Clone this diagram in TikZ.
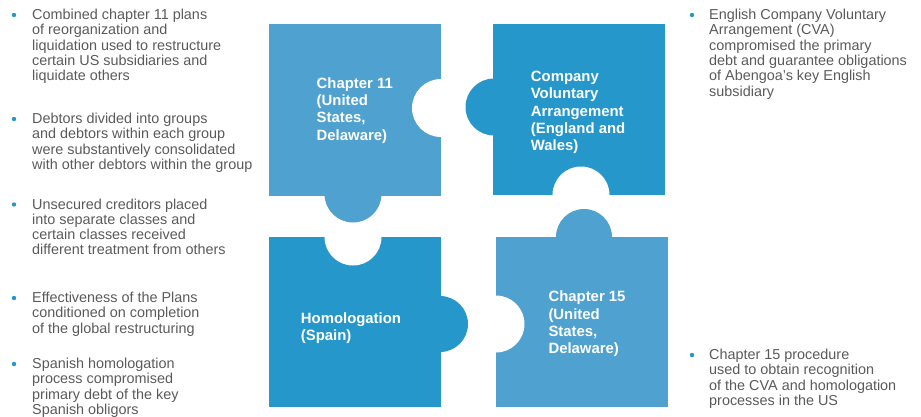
\documentclass[tikz,border=0pt]{standalone}
\usepackage{fontspec}
\setmainfont{Liberation Sans}
\definecolor{lightblue}{HTML}{4FA1CF}
\definecolor{darkblue}{HTML}{2597CA}
\definecolor{bodygray}{HTML}{5A5A5A}
\begin{document}
\begin{tikzpicture}[x=1pt,y=-1pt,
  piecelabel/.style={anchor=base west, inner sep=0pt, align=left, text=white,
    font=\fontsize{14.9}{17.3}\selectfont\bfseries},
  bodytext/.style={anchor=base west, inner sep=0pt, align=left, text=bodygray,
    font=\fontsize{14.4}{15.3}\selectfont},
  bulletdot/.style={circle, fill=darkblue, inner sep=0pt, minimum size=4.4pt}
]
\useasboundingbox (0,0) rectangle (921,416);

% --- puzzle pieces: bodies and tabs
\fill[lightblue] (269,24) rectangle (441,196);
\fill[lightblue] (353,194) circle[radius=28.5pt];
\fill[darkblue] (493,24) rectangle (665,195);
\fill[darkblue] (494,107) circle[radius=28.5pt];
\fill[darkblue] (269,237) rectangle (441,407);
\fill[darkblue] (440,324) circle[radius=28pt];
\fill[lightblue] (496,237) rectangle (668,407);
\fill[lightblue] (584,237) circle[radius=28pt];

% --- holes
\begin{scope}
  \clip (269,24) rectangle (441,196);
  \fill[white] (441,108) circle[radius=29pt];
\end{scope}
\begin{scope}
  \clip (493,24) rectangle (665,195);
  \fill[white] (581,195) circle[radius=28.5pt];
\end{scope}
\begin{scope}
  \clip (269,237) rectangle (441,407);
  \fill[white] (353,237) circle[radius=28.5pt];
\end{scope}
\begin{scope}
  \clip (496,237) rectangle (668,407);
  \fill[white] (496,324) circle[radius=28.5pt];
\end{scope}

% --- piece labels (anchor = baseline of last line)
\node[piecelabel] (ch11) at (316.5,140.2) {Chapter 11\\(United\\States,\\Delaware)};
\node[piecelabel] (cva) at (530.7,150.7) {Company\\Voluntary\\Arrangement\\(England and\\Wales)};
\node[piecelabel] (homol) at (300.7,340.8) {Homologation\\(Spain)};
\node[piecelabel] (ch15) at (548.3,353.6) {Chapter 15\\(United\\States,\\Delaware)};

% --- left bullets
\node[bulletdot] (b1) at (14,15) {};
\node[bodytext] (t1) at (32,80.7) {Combined chapter 11 plans\\of reorganization and\\liquidation used to restructure\\certain US subsidiaries and\\liquidate others};
\node[bulletdot] (b2) at (14,119) {};
\node[bodytext] (t2) at (32,169.4) {Debtors divided into groups\\and debtors within each group\\were substantively consolidated\\with other debtors within the group};
\node[bulletdot] (b3) at (14,204.5) {};
\node[bodytext] (t3) at (32,254.9) {Unsecured creditors placed\\into separate classes and\\certain classes received\\different treatment from others};
\node[bulletdot] (b4) at (14,298) {};
\node[bodytext] (t4) at (32,333.1) {Effectiveness of the Plans\\conditioned on completion\\of the global restructuring};
\node[bulletdot] (b5) at (14,364) {};
\node[bodytext] (t5) at (32,414.4) {Spanish homologation\\process compromised\\primary debt of the key\\Spanish obligors};

% --- right bullets
\node[bulletdot] (b6) at (692,15) {};
\node[bodytext] (t6) at (709,96) {English Company Voluntary\\Arrangement (CVA)\\compromised the primary\\debt and guarantee obligations\\of Abengoa’s key English\\subsidiary};
\node[bulletdot] (b7) at (692,355) {};
\node[bodytext] (t7) at (709,405.4) {Chapter 15 procedure\\used to obtain recognition\\of the CVA and homologation\\processes in the US};
\end{tikzpicture}
\end{document}
